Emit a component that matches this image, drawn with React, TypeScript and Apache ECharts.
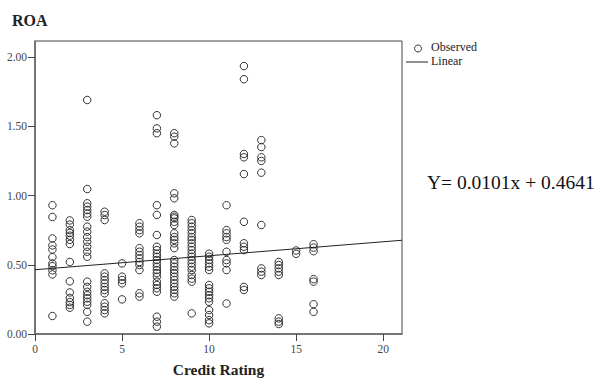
import React, { useEffect, useRef } from "react";
import * as echarts from "echarts";

const ratings = [1, 2, 3, 4, 5, 6, 7, 8, 9, 10, 11, 12, 13, 14, 15, 16];
const roaByRating: number[][] = [
  [0.93, 0.845, 0.69, 0.64, 0.61, 0.555, 0.51, 0.49, 0.46, 0.43, 0.13],
  [0.82, 0.79, 0.75, 0.73, 0.71, 0.68, 0.65, 0.52, 0.38, 0.3, 0.26, 0.23, 0.21, 0.19],
  [1.69, 1.047, 0.944, 0.92, 0.895, 0.87, 0.847, 0.775, 0.739, 0.7, 0.666, 0.63, 0.594, 0.558, 0.378, 0.34, 0.305, 0.28, 0.258, 0.233, 0.21, 0.16, 0.089],
  [0.883, 0.859, 0.823, 0.438, 0.414, 0.39, 0.366, 0.34, 0.318, 0.294, 0.222, 0.197, 0.173, 0.149],
  [0.51, 0.414, 0.39, 0.366, 0.25],
  [0.8, 0.775, 0.75, 0.727, 0.62, 0.594, 0.57, 0.547, 0.52, 0.498, 0.462, 0.294, 0.27],
  [1.58, 1.485, 1.45, 0.93, 0.86, 0.715, 0.63, 0.606, 0.58, 0.558, 0.534, 0.51, 0.486, 0.462, 0.44, 0.414, 0.378, 0.354, 0.33, 0.305, 0.125, 0.089, 0.053],
  [1.45, 1.425, 1.377, 1.016, 0.98, 0.86, 0.847, 0.835, 0.81, 0.787, 0.727, 0.7, 0.68, 0.655, 0.62, 0.534, 0.51, 0.486, 0.462, 0.44, 0.414, 0.39, 0.366, 0.34, 0.318, 0.294, 0.27],
  [0.823, 0.8, 0.775, 0.75, 0.727, 0.7, 0.68, 0.655, 0.63, 0.606, 0.58, 0.558, 0.534, 0.51, 0.486, 0.462, 0.426, 0.4, 0.378, 0.149],
  [0.58, 0.558, 0.534, 0.51, 0.486, 0.462, 0.354, 0.33, 0.305, 0.28, 0.258, 0.233, 0.173, 0.137, 0.1, 0.077],
  [0.93, 0.75, 0.727, 0.7, 0.68, 0.594, 0.534, 0.51, 0.462, 0.22],
  [1.935, 1.84, 1.3, 1.276, 1.155, 0.81, 0.655, 0.63, 0.606, 0.34, 0.318],
  [1.4, 1.35, 1.276, 1.25, 1.165, 0.787, 0.474, 0.45, 0.426],
  [0.52, 0.498, 0.474, 0.45, 0.426, 0.113, 0.089, 0.072],
  [0.603, 0.579],
  [0.648, 0.624, 0.598, 0.396, 0.378, 0.215, 0.16],
];

const slope = 0.0101;
const intercept = 0.4641;
const xTicks = [0, 5, 10, 15, 20];
const yTicks = [0, 0.5, 1, 1.5, 2];
const xRange = [0, 21.08];
const yRange = [0, 2.116];
const legendNames = ["Observed", "Linear"];

const FONT = "'Liberation Serif', 'Times New Roman', serif";

export default function App() {
  const ref = useRef<HTMLDivElement>(null);
  useEffect(() => {
    if (!ref.current) return;
    const chart = echarts.init(ref.current, undefined, { renderer: "svg" });
    const points: number[][] = [];
    ratings.forEach((r, i) => roaByRating[i].forEach((v) => points.push([r, v])));
    const lineData = [
      [xRange[0], intercept + slope * xRange[0]],
      [xRange[1], intercept + slope * xRange[1]],
    ];
    chart.setOption({
      animation: false,
      backgroundColor: "#fff",
      textStyle: { fontFamily: FONT },
      grid: {
        left: 35,
        right: 196,
        top: 41,
        bottom: 44,
        show: true,
        borderColor: "#444",
        borderWidth: 1,
        containLabel: false,
        outerBoundsMode: "none",
      },
      xAxis: {
        type: "value",
        min: xRange[0],
        max: xRange[1],
        interval: 5,
        splitLine: { show: false },
        axisLine: { lineStyle: { color: "#666", width: 1.5 } },
        axisTick: { length: 7, lineStyle: { color: "#444" }, customValues: xTicks },
        axisLabel: {
          customValues: xTicks,
          margin: 9,
          fontFamily: FONT,
          fontSize: 11.5,
          color: "#444",
        },
        name: "Credit Rating",
        nameLocation: "middle",
        nameGap: 27,
        nameTextStyle: { fontFamily: FONT, fontSize: 15.5, fontWeight: "bold", color: "#222" },
      },
      yAxis: {
        type: "value",
        min: yRange[0],
        max: yRange[1],
        interval: 0.5,
        splitLine: { show: false },
        axisLine: { lineStyle: { color: "#666", width: 1.5 } },
        axisTick: { length: 7, lineStyle: { color: "#444" }, customValues: yTicks },
        axisLabel: {
          customValues: yTicks,
          margin: 8,
          fontFamily: FONT,
          fontSize: 11.5,
          color: "#444",
          formatter: (v: number) => v.toFixed(2),
        },
      },
      graphic: [
        {
          type: "text",
          left: 12,
          top: 12,
          style: { text: "ROA", font: `bold 16px ${FONT}`, fill: "#222" },
        },
        {
          type: "text",
          left: 427,
          top: 172,
          style: { text: "Y= 0.0101x + 0.4641", font: `19.5px ${FONT}`, fill: "#111" },
        },
        {
          type: "circle",
          shape: { cx: 418, cy: 48.5, r: 3.5 },
          style: { fill: "none", stroke: "#333", lineWidth: 1 },
        },
        {
          type: "text",
          x: 431,
          y: 47,
          style: { text: legendNames[0], font: `12px ${FONT}`, fill: "#222", verticalAlign: "middle" },
        },
        {
          type: "line",
          shape: { x1: 406, y1: 62, x2: 428, y2: 62 },
          style: { stroke: "#222", lineWidth: 1 },
        },
        {
          type: "text",
          x: 431,
          y: 61,
          style: { text: legendNames[1], font: `12px ${FONT}`, fill: "#222", verticalAlign: "middle" },
        },
      ],
      series: [
        {
          name: legendNames[0],
          type: "scatter",
          symbol: "circle",
          symbolSize: 7.5,
          itemStyle: { color: "transparent", borderColor: "#333", borderWidth: 1, opacity: 1 },
          data: points,
          z: 3,
        },
        {
          name: legendNames[1],
          type: "line",
          showSymbol: false,
          symbol: "none",
          lineStyle: { color: "#222", width: 1 },
          data: lineData,
          z: 4,
        },
      ],
    });
    return () => chart.dispose();
  }, []);
  return <div ref={ref} style={{ position: "fixed", left: 0, top: 0, width: 598, height: 378 }} />;
}
